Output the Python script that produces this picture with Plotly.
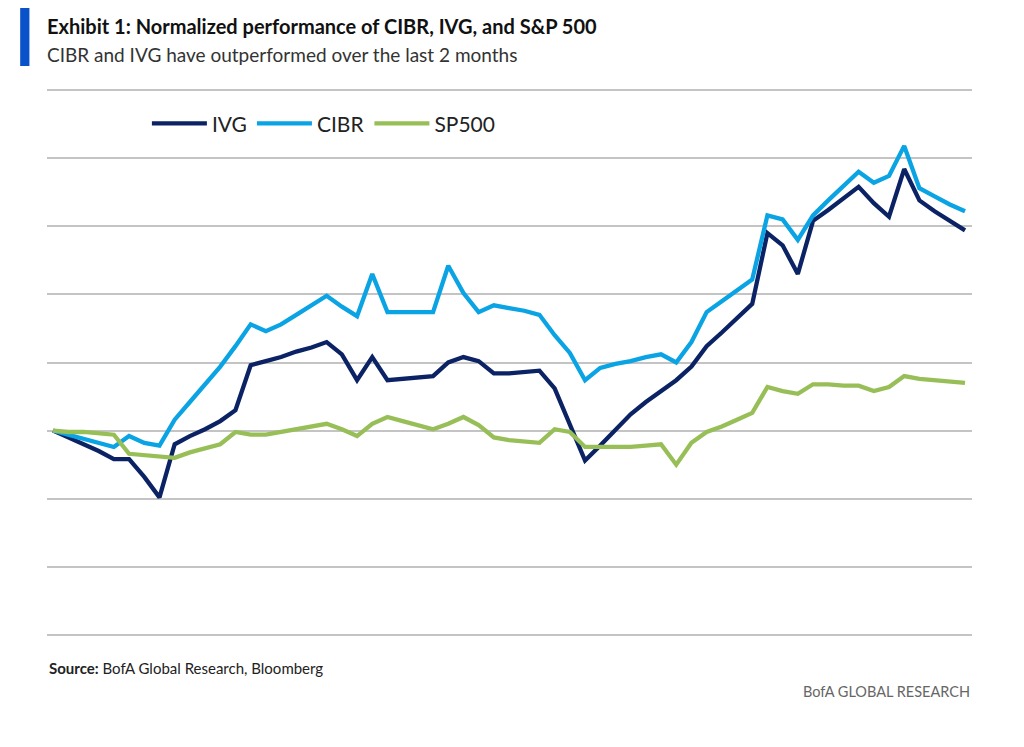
import plotly.graph_objects as go

# Normalized levels (start = 100), daily observations
dias = list(range(61))

ivg = [100.0, 99.5, 99.0, 98.5, 97.9, 97.9, 96.6, 95.1, 99.0, 99.6,
       100.1, 100.7, 101.5, 104.8, 105.1, 105.4, 105.8, 106.1, 106.5, 105.6,
       103.7, 105.4, 103.7, 103.8, 103.9, 104.0, 105.0, 105.4, 105.1, 104.2,
       104.2, 104.3, 104.4, 103.1, 100.4, 97.8, 98.9, 100.1, 101.2, 102.1,
       102.9, 103.7, 104.7, 106.2, 107.2, 108.3, 109.3, 114.5, 113.6, 111.5,
       115.4, 116.2, 117.1, 117.9, 116.7, 115.7, 119.2, 116.9, 116.1, 115.4,
       114.7]

cibr = [100.0, 99.7, 99.4, 99.1, 98.8, 99.6, 99.1, 98.9, 100.8, 102.1,
        103.4, 104.7, 106.2, 107.8, 107.3, 107.8, 108.5, 109.2, 109.9, 109.1,
        108.4, 111.5, 108.7, 108.7, 108.7, 108.7, 112.1, 110.1, 108.7, 109.2,
        109.0, 108.8, 108.5, 107.0, 105.7, 103.7, 104.6, 104.9, 105.1, 105.4,
        105.6, 105.0, 106.5, 108.7, 109.5, 110.3, 111.1, 115.8, 115.5, 114.0,
        115.8, 116.9, 118.0, 119.0, 118.2, 118.7, 120.9, 117.8, 117.2, 116.6,
        116.1]

sp500 = [100.0, 99.9, 99.9, 99.8, 99.7, 98.3, 98.2, 98.1, 98.0, 98.4,
         98.7, 99.0, 99.9, 99.7, 99.7, 99.9, 100.1, 100.3, 100.5, 100.1,
         99.6, 100.5, 101.0, 100.7, 100.4, 100.1, 100.5, 101.0, 100.4, 99.5,
         99.3, 99.2, 99.1, 100.1, 99.9, 98.8, 98.8, 98.8, 98.8, 98.9,
         99.0, 97.5, 99.1, 99.9, 100.3, 100.8, 101.3, 103.2, 102.9, 102.7,
         103.4, 103.4, 103.3, 103.3, 102.9, 103.2, 104.0, 103.8, 103.7, 103.6,
         103.5]

series = [("IVG", ivg, "#0b2265"), ("CIBR", cibr, "#0aa3e3"), ("SP500", sp500, "#98bf57")]

fuente = "Lato, sans-serif"
alto = 549  # plot-area height in px, used to place header/footer text

fig = go.Figure()
for nombre, valores, color in series:
    fig.add_trace(go.Scatter(x=dias, y=valores, name=nombre, mode="lines",
                             line=dict(color=color, width=4.3)))

# the page body adds 8px, so margins are shifted to compensate
fig.update_layout(
    width=1024, height=747,
    margin=dict(l=39, r=60, t=80, b=118),
    plot_bgcolor="white", paper_bgcolor="white",
    font=dict(family=fuente, color="#222"),
    showlegend=True,
    legend=dict(orientation="h", x=0.108, y=0.935, xanchor="left", yanchor="middle",
                font=dict(size=21, color="#222"), itemwidth=55,
                bgcolor="rgba(0,0,0,0)"),
)

fig.update_xaxes(range=[-0.4, 60.46], showgrid=False, showticklabels=False,
                 zeroline=False, showline=False, ticks="")
fig.update_yaxes(range=[84.85, 125.15], dtick=5, tick0=85, showgrid=True,
                 gridcolor="#c4c4c4", gridwidth=2, showticklabels=False,
                 zeroline=False, showline=False, ticks="")

# Blue accent bar next to title
fig.add_shape(type="rect", xref="paper", yref="paper",
              x0=-0.029, x1=-0.019, y0=1.0 + 22 / alto, y1=1.0 + 82 / alto,
              fillcolor="#0a52c9", line_width=0)

fig.add_annotation(text="<b>Exhibit 1: Normalized performance of CIBR, IVG, and S&P 500</b>",
                   xref="paper", yref="paper", x=-0.002, y=1.0 + 62 / alto,
                   xanchor="left", yanchor="middle", showarrow=False,
                   font=dict(size=20, color="#111", family=fuente))
fig.add_annotation(text="CIBR and IVG have outperformed over the last 2 months",
                   xref="paper", yref="paper", x=-0.002, y=1.0 + 34 / alto,
                   xanchor="left", yanchor="middle", showarrow=False,
                   font=dict(size=19, color="#333", family=fuente))
fig.add_annotation(text="<b>Source:</b> BofA Global Research, Bloomberg",
                   xref="paper", yref="paper", x=0, y=-31 / alto,
                   xanchor="left", yanchor="middle", showarrow=False,
                   font=dict(size=15, color="#222", family=fuente))
fig.add_annotation(text="BofA GLOBAL RESEARCH",
                   xref="paper", yref="paper", x=1, y=-54 / alto,
                   xanchor="right", yanchor="middle", showarrow=False,
                   font=dict(size=14.5, color="#666", family=fuente))

fig.write_html("out.html")
